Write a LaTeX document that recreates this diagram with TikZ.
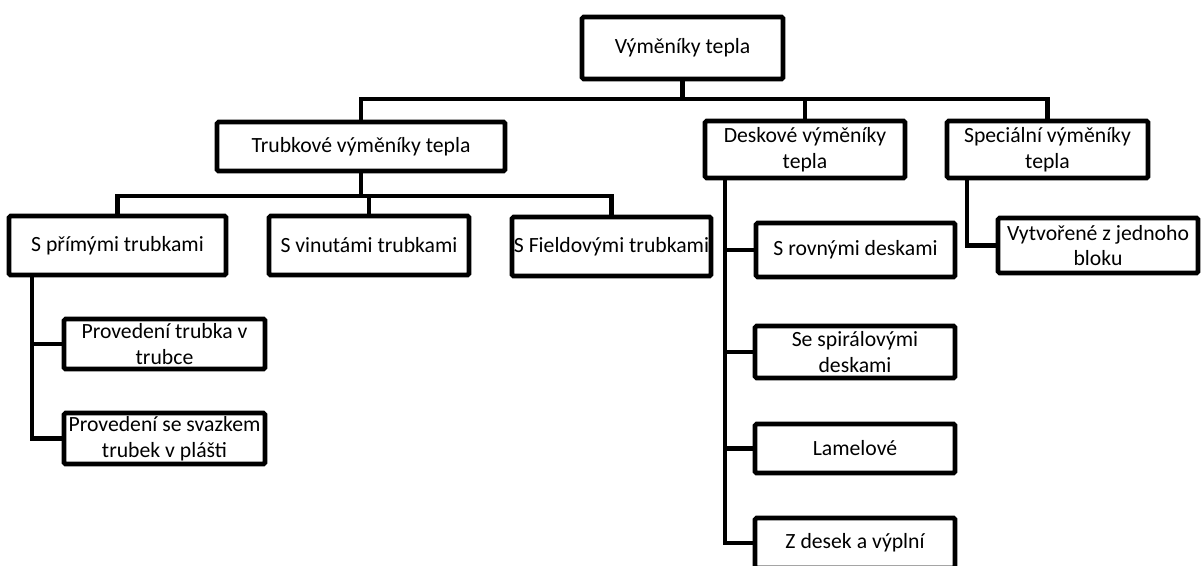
\documentclass[tikz,border=0pt]{standalone}
\usepackage{fontspec}
\setmainfont{Carlito}
\begin{document}
\begin{tikzpicture}[x=1pt,y=-1pt,
  box/.style={draw=black, line width=4.6pt, rounded corners=1.5pt, align=center,
    inner sep=0pt, font=\fontsize{21.7}{25.5}\selectfont, minimum width=#1},
  box/.default=200pt,
  conn/.style={draw=black, line width=4.6pt}]
\useasboundingbox (0,0) rectangle (1202,565);
\clip (0,0) rectangle (1202,565);
% nodes
\node[box=201pt, minimum height=62pt] (root) at (682.5,48) {Výměníky tepla};
\node[box=288pt, minimum height=49pt] (trub) at (361,146.5) {Trubkové výměníky tepla};
\node[box=200pt, minimum height=57pt] (desk) at (805,149.5) {Deskové výměníky\\tepla};
\node[box=201pt, minimum height=57pt] (spec) at (1047.5,149.5) {Speciální výměníky\\tepla};
\node[box=217pt, minimum height=59pt] (prim) at (117.5,245.5) {S přímými trubkami};
\node[box=200pt, minimum height=59pt] (vin) at (369,245.5) {S vinutámi trubkami};
\node[box=199pt, minimum height=59pt] (field) at (611.5,246.5) {S Fieldovými trubkami};
\node[box=200pt, minimum height=55pt] (vyt) at (1098,245.5) {Vytvořené z jednoho\\bloku};
\node[box=201pt, minimum height=50pt] (prov1) at (164.5,344) {Provedení trubka v\\trubce};
\node[box=201pt, minimum height=51pt] (prov2) at (164.5,438.5) {Provedení se svazkem\\trubek v plášti};
\node[box=199pt, minimum height=54pt] (rov) at (855.5,250) {S rovnými deskami};
\node[box=200pt, minimum height=52pt] (spir) at (855,352) {Se spirálovými\\deskami};
\node[box=200pt, minimum height=49pt] (lam) at (855,448.5) {Lamelové};
\node[box=200pt, minimum height=50pt] (zdes) at (855,543) {Z desek a výplní};
% connectors
\coordinate (b1) at (682.5,99);
\draw[conn] (root.south) -- (b1);
\draw[conn] (b1) -| (trub.north);
\draw[conn] (b1) -| (desk.north);
\draw[conn] (b1) -| (spec.north);
\coordinate (b2) at (361,196);
\draw[conn] (trub.south) -- (b2);
\draw[conn] (b2) -| (prim.north);
\draw[conn] (b2) -| (vin.north);
\draw[conn] (b2) -| (field.north);
\coordinate (t1) at (32,275);
\draw[conn] (t1) |- (prov1.west);
\draw[conn] (t1) |- (prov2.west);
\coordinate (d1) at (725,178);
\draw[conn] (d1) |- (rov.west);
\draw[conn] (d1) |- (spir.west);
\draw[conn] (d1) |- (lam.west);
\draw[conn] (d1) |- (zdes.west);
\coordinate (s1) at (967,178);
\draw[conn] (s1) |- (vyt.west);
\end{tikzpicture}
\end{document}
